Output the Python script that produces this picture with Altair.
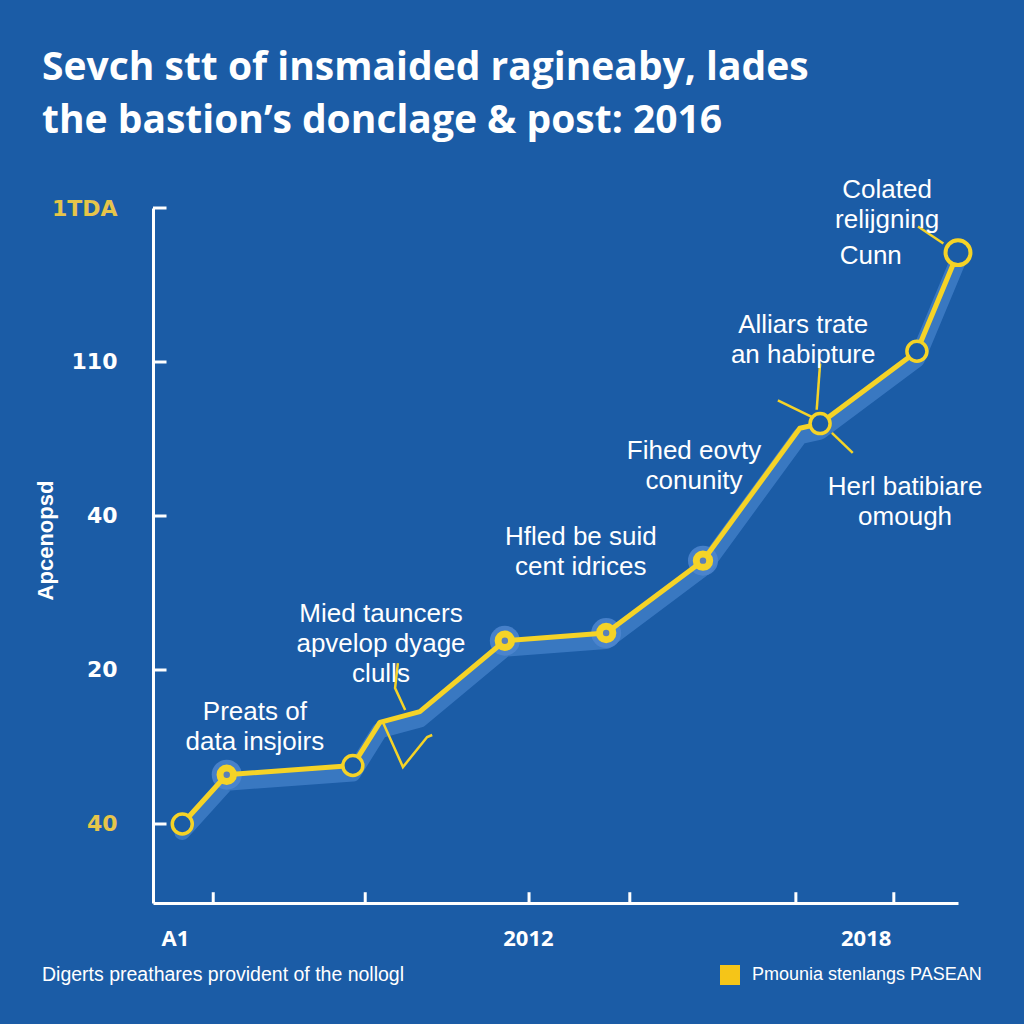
import altair as alt
import pandas as pd

# ---------------- data ----------------
years = [2005.82, 2006.61, 2008.85, 2009.33, 2010.04, 2011.55, 2013.35, 2015.07, 2016.79, 2017.15, 2018.87, 2019.60]
values = [0.0, 0.32, 0.38, 0.66, 0.73, 1.19, 1.24, 1.71, 2.57, 2.60, 3.07, 3.71]
series_name = "Pmounia stenlangs PASEAN"

# marker kinds (which vertices carry a marker)
thin_ring_idx = [0, 2, 9, 10]
thick_ring_idx = [1, 5, 6, 7]
end_ring_idx = [11]

y_tick_values = [0, 1, 2, 3, 4]
y_tick_labels = ["40", "20", "40", "110", "1TDA"]
x_tick_values = [2006.37, 2009.07, 2011.98, 2013.77, 2016.72, 2018.46]
x_label_values = [2005.69, 2011.96, 2017.96]
x_label_texts = ["A1", "2012", "2018"]

ann_texts = [
    "Colated\nrelijgning",
    "Cunn",
    "Alliars trate\nan habipture",
    "Fihed eovty\nconunity",
    "Herl batibiare\nomough",
    "Hfled be suid\ncent idrices",
    "Mied tauncers\napvelop dyage\nclulls",
    "Preats of\ndata insjoirs",
]
ann_x = [2018.34, 2018.05, 2016.85, 2014.91, 2018.66, 2012.90, 2009.35, 2007.11]
ann_y = [4.117, 3.688, 3.240, 2.422, 2.188, 1.864, 1.364, 0.727]

leader_id = [0, 0, 1, 1, 2, 2, 3, 3, 4, 4, 4, 5, 5, 5, 5]
leader_x = [2018.89, 2019.34, 2017.15, 2017.09, 2016.40, 2017.02, 2017.36, 2017.73,
            2009.65, 2009.60, 2009.78, 2009.39, 2009.74, 2010.17, 2010.26]
leader_y = [3.88, 3.77, 2.99, 2.69, 2.75, 2.64, 2.54, 2.41,
            1.045, 0.883, 0.740, 0.656, 0.370, 0.565, 0.578]

title_lines = ["Sevch stt of insmaided ragineaby, lades",
               "the bastion\u2019s donclage \u0026 post:  2016"]
footer_text = "Digerts preathares provident of the nollogl"
y_title = "Apcenopsd"

# ---------------- styling ----------------
BG = "#1b5ca6"
YELLOW = "#f5d327"
LABEL_YELLOW = "#e6c54a"
WHITE = "#ffffff"
X_DOMAIN = [2005.3, 2019.6]
Y_DOMAIN = [-0.513, 4.0]

df = pd.DataFrame({"year": years, "value": values, "series": series_name, "i": list(range(len(years)))})
thin_df = df.iloc[thin_ring_idx]
thick_df = df.iloc[thick_ring_idx]
end_df = df.iloc[end_ring_idx]
ann_df = pd.DataFrame({"x": ann_x, "y": ann_y, "t": ann_texts})
lead_df = pd.DataFrame({"id": leader_id, "x": leader_x, "y": leader_y, "o": list(range(len(leader_x)))})
xt_df = pd.DataFrame({"x": x_tick_values})
yt_df = pd.DataFrame({"y": y_tick_values})

ylab_expr = "[" + ",".join("'%s'" % s for s in y_tick_labels) + "][datum.value]"
xlab_expr = ("datum.value < 2008 ? '%s' : (datum.value < 2015 ? '%s' : '%s')" % tuple(x_label_texts))

xs = alt.Scale(domain=X_DOMAIN, nice=False, zero=False)
ys = alt.Scale(domain=Y_DOMAIN, nice=False, zero=False)

x_axis = alt.Axis(values=x_label_values, labelExpr=xlab_expr, title=None, grid=False, ticks=False,
                  domain=True, domainColor=WHITE, domainWidth=3, labelColor=WHITE, labelFontSize=22,
                  labelFontWeight="bold", labelFont="Open Sans", labelPadding=25)
y_axis = alt.Axis(values=y_tick_values, labelExpr=ylab_expr, title=y_title, grid=False, ticks=False,
                  domain=True, domainColor=WHITE, domainWidth=3,
                  labelColor=alt.expr("datum.value == 0 || datum.value == 4 ? '%s' : '%s'" % (LABEL_YELLOW, WHITE)),
                  labelFontSize=22, labelFontWeight="bold", labelFont="DejaVu Sans", labelPadding=36,
                  titleColor=WHITE, titleFontSize=22, titleFontWeight="bold", titleFont="Liberation Sans",
                  titleX=-108, titleY=332, titleAngle=270, titleBaseline="middle", titleAlign="center")

X = alt.X("year:Q", scale=xs, axis=x_axis)
Y = alt.Y("value:Q", scale=ys, axis=y_axis)

shadow = alt.Chart(df).mark_line(color="#4f8ad4", strokeWidth=16, opacity=0.6, yOffset=8,
                                 strokeCap="round", strokeJoin="round").encode(x=X, y=Y, order="i:Q")

line = alt.Chart(df).mark_line(strokeWidth=5, strokeJoin="round").encode(
    x=X, y=Y, order="i:Q",
    color=alt.Color("series:N", scale=alt.Scale(range=[YELLOW]),
                    legend=alt.Legend(orient="none", legendX=567, legendY=757, title=None,
                                      symbolType="square", symbolSize=400, symbolFillColor="#f5c518",
                                      symbolStrokeColor="#f5c518", symbolStrokeWidth=0, symbolOpacity=1,
                                      labelColor=WHITE, labelFontSize=18, labelFont="Liberation Sans",
                                      labelOffset=12, labelLimit=0, padding=0)))

halo = alt.Chart(thick_df).mark_point(shape="circle", filled=True, size=900, color="#4d86cf",
                                      opacity=0.85).encode(x=X, y=Y)
thick = alt.Chart(thick_df).mark_point(shape="circle", filled=False, size=180, stroke=YELLOW,
                                       strokeWidth=7, fill="#5b7fb8", fillOpacity=1, opacity=1).encode(x=X, y=Y)
thin = alt.Chart(thin_df).mark_point(shape="circle", filled=False, size=400, stroke=YELLOW,
                                     strokeWidth=3.5, fill=BG, fillOpacity=1, opacity=1).encode(x=X, y=Y)
end = alt.Chart(end_df).mark_point(shape="circle", filled=False, size=620, stroke=YELLOW,
                                   strokeWidth=4, fill=BG, fillOpacity=1, opacity=1).encode(x=X, y=Y)

leaders = alt.Chart(lead_df).mark_line(color=YELLOW, strokeWidth=2.5).encode(
    x=alt.X("x:Q", scale=xs), y=alt.Y("y:Q", scale=ys), detail="id:N", order="o:Q")

ann = alt.Chart(ann_df).mark_text(font="Liberation Sans", fontSize=26, color=WHITE, lineBreak="\n",
                                  lineHeight=30, align="center", baseline="middle").encode(
    x=alt.X("x:Q", scale=xs), y=alt.Y("y:Q", scale=ys), text="t:N")

xticks = alt.Chart(xt_df).mark_rule(color=WHITE, strokeWidth=3).encode(
    x=alt.X("x:Q", scale=xs), y=alt.datum(Y_DOMAIN[0], scale=ys), y2=alt.datum(Y_DOMAIN[0] + 0.07))
yticks = alt.Chart(yt_df).mark_rule(color=WHITE, strokeWidth=3).encode(
    y=alt.Y("y:Q", scale=ys), x=alt.datum(X_DOMAIN[0], scale=xs), x2=alt.datum(X_DOMAIN[0] + 0.24))

one = pd.DataFrame({"k": [0]})
title = alt.Chart(one).mark_text(text=title_lines, font="Open Sans", fontSize=39, fontWeight="bold",
                                 color=WHITE, align="left", baseline="alphabetic", lineHeight=53).encode(
    x=alt.value(-111), y=alt.value(-128))
footer = alt.Chart(one).mark_text(text=footer_text, font="Liberation Sans", fontSize=19.5, color=WHITE,
                                  align="left", baseline="middle").encode(
    x=alt.value(-111), y=alt.value(767))

chart = alt.layer(shadow, halo, line, leaders, thick, thin, end, xticks, yticks, ann, title, footer).properties(
    width=805, height=695, background=BG,
    padding={"left": 153, "top": 208, "right": 66, "bottom": 121},
    autosize=alt.AutoSizeParams(type="none"),
).configure_view(stroke=None)

chart.save("out.html", embed_options={"renderer": "svg", "actions": False})
